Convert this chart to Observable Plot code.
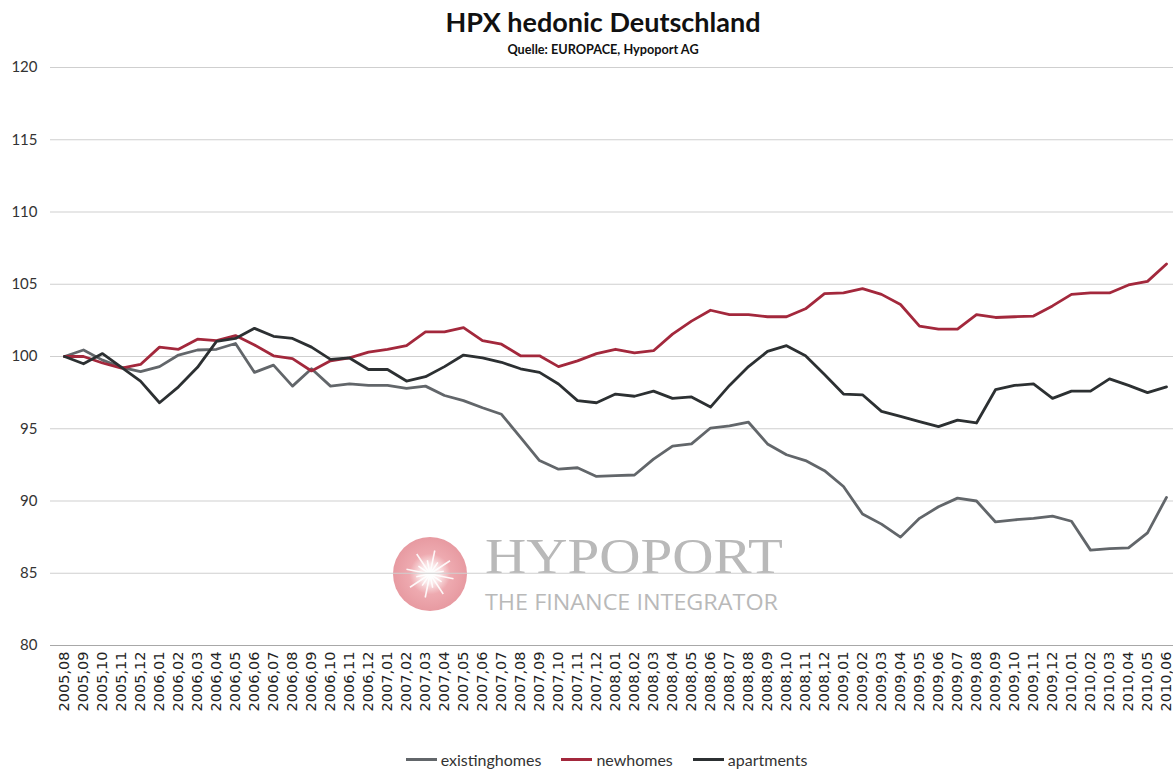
<!DOCTYPE html>
<html>
<head>
<meta charset="utf-8">
<script src="https://cdn.jsdelivr.net/npm/d3@7"></script>
<script src="https://cdn.jsdelivr.net/npm/@observablehq/plot@0.6"></script>
<style>
  html, body { margin: 0; padding: 0; background: #fff; }
  #wrap { position: relative; width: 1173px; height: 769px; overflow: hidden; font-family: Lato, "Open Sans", sans-serif; }
  #title { position: absolute; left: 0; width: 1206px; top: 5px; text-align: center; font-weight: bold; font-size: 27px; color: #111; }
  #subtitle { position: absolute; left: 0; width: 1206px; top: 41px; text-align: center; font-weight: bold; font-size: 12.7px; color: #111; }
  #wm { position: absolute; left: 0; top: 0; }
  #chart { position: absolute; left: 0; top: 0; }
  #legend { position: absolute; left: 0; width: 1173px; top: 750px; display: flex; justify-content: center; gap: 20px; font-size: 16px; color: #333; padding-left: 40px; box-sizing: border-box; }
  #legend .item { display: flex; align-items: center; }
  #legend .sw { width: 31px; height: 3px; margin-right: 4px; }
</style>
</head>
<body>
<div id="wrap">
  <svg id="wm" width="1173" height="769">
    <defs>
      <radialGradient id="g" cx="50%" cy="50%" r="50%">
        <stop offset="0%" stop-color="#ffffff"/>
        <stop offset="25%" stop-color="#fbe9ea"/>
        <stop offset="55%" stop-color="#eeaab0"/>
        <stop offset="100%" stop-color="#e79aa1"/>
      </radialGradient>
    </defs>
    <circle cx="430" cy="574" r="37" fill="url(#g)"/>
    <g id="rays" stroke="#ffffff" stroke-width="1.6" opacity="0.9"></g>
    <text x="485" y="573" font-family="'Liberation Serif', 'DejaVu Serif', serif" font-size="50" fill="#b9b9b9" textLength="298" lengthAdjust="spacingAndGlyphs">HYPOPORT</text>
    <text x="485" y="610" font-family="'Open Sans', 'DejaVu Sans', sans-serif" font-size="22.5" fill="#b9b9b9" textLength="293" lengthAdjust="spacingAndGlyphs">THE FINANCE INTEGRATOR</text>
  </svg>
  <div id="chart"></div>
  <div id="title">HPX hedonic Deutschland</div>
  <div id="subtitle">Quelle: EUROPACE, Hypoport AG</div>
  <div id="legend"></div>
</div>
<script>
const months = ["2005,08","2005,09","2005,10","2005,11","2005,12",
  "2006,01","2006,02","2006,03","2006,04","2006,05","2006,06","2006,07","2006,08","2006,09","2006,10","2006,11","2006,12",
  "2007,01","2007,02","2007,03","2007,04","2007,05","2007,06","2007,07","2007,08","2007,09","2007,10","2007,11","2007,12",
  "2008,01","2008,02","2008,03","2008,04","2008,05","2008,06","2008,07","2008,08","2008,09","2008,10","2008,11","2008,12",
  "2009,01","2009,02","2009,03","2009,04","2009,05","2009,06","2009,07","2009,08","2009,09","2009,10","2009,11","2009,12",
  "2010,01","2010,02","2010,03","2010,04","2010,05","2010,06"];

const existinghomes = [100, 100.45, 99.75, 99.25, 98.95, 99.3, 100.1, 100.45, 100.5, 100.9,
  98.9, 99.4, 97.95, 99.15, 97.95, 98.1, 98.0, 98.0, 97.8, 97.95,
  97.3, 96.95, 96.45, 96.0, 94.4, 92.8, 92.2, 92.3, 91.7, 91.75,
  91.8, 92.9, 93.8, 93.95, 95.05, 95.2, 95.45, 93.95, 93.2, 92.8,
  92.1, 91.0, 89.1, 88.4, 87.5, 88.8, 89.6, 90.2, 90.0, 88.55,
  88.7, 88.8, 88.95, 88.6, 86.6, 86.7, 86.75, 87.8, 90.25];

const newhomes = [100, 100.0, 99.55, 99.2, 99.45, 100.65, 100.5, 101.2, 101.1, 101.45,
  100.8, 100.05, 99.85, 99.0, 99.7, 99.9, 100.3, 100.5, 100.75, 101.7,
  101.7, 102.0, 101.1, 100.85, 100.05, 100.05, 99.3, 99.7, 100.2, 100.5,
  100.25, 100.4, 101.55, 102.45, 103.2, 102.9, 102.9, 102.75, 102.75, 103.3,
  104.35, 104.4, 104.7, 104.3, 103.6, 102.1, 101.9, 101.9, 102.9, 102.7,
  102.75, 102.8, 103.5, 104.3, 104.4, 104.4, 104.95, 105.2, 106.4];

const apartments = [100, 99.5, 100.2, 99.25, 98.3, 96.8, 97.9, 99.25, 101.05, 101.25,
  101.95, 101.4, 101.25, 100.65, 99.8, 99.9, 99.1, 99.1, 98.3, 98.6,
  99.3, 100.1, 99.9, 99.6, 99.15, 98.9, 98.1, 96.95, 96.8, 97.4,
  97.25, 97.6, 97.1, 97.2, 96.5, 98.0, 99.3, 100.35, 100.75, 100.05,
  98.75, 97.4, 97.35, 96.2, 95.85, 95.5, 95.15, 95.6, 95.4, 97.7,
  98.0, 98.1, 97.1, 97.6, 97.6, 98.45, 98.0, 97.5, 97.9];

const seriesNames = ["existinghomes", "newhomes", "apartments"];
const seriesColors = ["#62666a", "#a3283c", "#2c3032"];
const yTicks = [80, 85, 90, 95, 100, 105, 110, 115, 120];

const seriesValues = [existinghomes, newhomes, apartments];
const data = [];
seriesNames.forEach((name, s) => {
  months.forEach((m, i) => data.push({month: m, value: seriesValues[s][i], series: name}));
});

// watermark rays (decorative)
const rays = document.getElementById("rays");
for (let k = 0; k < 16; k++) {
  const a = k * Math.PI / 8 + 0.2;
  const len = k % 2 ? 14 : 24;
  const l = document.createElementNS("http://www.w3.org/2000/svg", "line");
  l.setAttribute("x1", 430); l.setAttribute("y1", 574);
  l.setAttribute("x2", 430 + Math.cos(a) * len); l.setAttribute("y2", 574 + Math.sin(a) * len);
  rays.appendChild(l);
}

const chart = Plot.plot({
  width: 1173,
  height: 769,
  marginTop: 67,
  marginBottom: 124,
  marginLeft: 50,
  marginRight: 0,
  style: {background: "transparent", fontFamily: "Lato, 'Open Sans', sans-serif", overflow: "visible"},
  x: {type: "point", domain: months, range: [63, 1167], padding: 0, label: null},
  y: {domain: [80, 120], label: null},
  color: {domain: seriesNames, range: seriesColors},
  marks: [
    Plot.gridY(yTicks.filter(t => t > 80), {stroke: "#cfcfcf", strokeOpacity: 1, strokeWidth: 1}),
    Plot.ruleY([80], {stroke: "#a8a8a8", strokeWidth: 1}),
    Plot.axisY(yTicks, {tickSize: 0, tickPadding: 13, fontSize: 15, fill: "#333", label: null}),
    Plot.axisX({tickSize: 0, tickPadding: 6, tickRotate: -90, fontSize: 14.5, fontFamily: "'DejaVu Sans', sans-serif", fill: "#222", label: null}),
    Plot.line(data, {x: "month", y: "value", z: "series", stroke: "series", strokeWidth: 2.8, strokeLinejoin: "round"})
  ]
});
document.getElementById("chart").appendChild(chart);

const legend = document.getElementById("legend");
seriesNames.forEach((n, i) => {
  const it = document.createElement("div");
  it.className = "item";
  it.innerHTML = `<span class="sw" style="background:${seriesColors[i]}"></span><span>${n}</span>`;
  legend.appendChild(it);
});
</script>
</body>
</html>
